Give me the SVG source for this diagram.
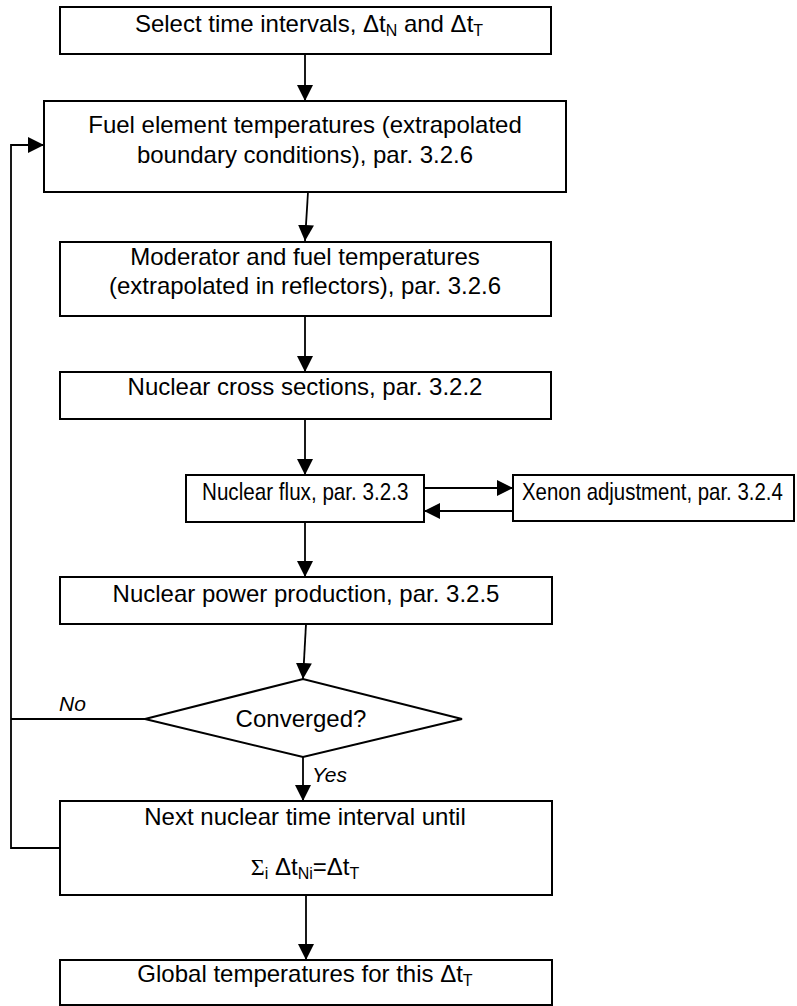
<svg xmlns="http://www.w3.org/2000/svg" width="797" height="1006" viewBox="0 0 797 1006">
<defs>
<style>
.box{fill:#fff;stroke:#000;stroke-width:2}
.t{font-family:"Liberation Sans",Arial,sans-serif;font-size:24px;fill:#000;text-anchor:middle}
.n{font-family:"Liberation Sans",Arial,sans-serif;font-size:24px;fill:#000}
.lbl{font-family:"Liberation Sans",Arial,sans-serif;font-size:21px;font-style:italic;fill:#000}
.sub{font-size:16px}
.c{fill:none;stroke:#000;stroke-width:1.8}
</style>
<marker id="ah" markerUnits="userSpaceOnUse" markerWidth="16" markerHeight="16" refX="14" refY="7" orient="auto" viewBox="0 0 14 14">
<path d="M0,0 L14,7 L0,14 z" fill="#000"/>
</marker>
</defs>
<rect width="797" height="1006" fill="#fff"/>
<g id="connectors">
<line class="c" x1="305" y1="54" x2="305" y2="101" marker-end="url(#ah)"/>
<line class="c" x1="308" y1="192" x2="305" y2="241" marker-end="url(#ah)"/>
<line class="c" x1="305" y1="316" x2="305" y2="372" marker-end="url(#ah)"/>
<line class="c" x1="305" y1="419" x2="305" y2="475" marker-end="url(#ah)"/>
<line class="c" x1="424" y1="488" x2="513" y2="488" marker-end="url(#ah)"/>
<line class="c" x1="513" y1="511" x2="424" y2="511" marker-end="url(#ah)"/>
<line class="c" x1="305" y1="522" x2="305" y2="577" marker-end="url(#ah)"/>
<line class="c" x1="306" y1="624" x2="303" y2="679" marker-end="url(#ah)"/>
<line class="c" x1="303" y1="757" x2="303" y2="801" marker-end="url(#ah)"/>
<line class="c" x1="306" y1="895" x2="306" y2="960" marker-end="url(#ah)"/>
<line class="c" x1="145" y1="719" x2="11" y2="719"/>
<path class="c" d="M60,848 H11 V145 H44" marker-end="url(#ah)"/>
<text class="lbl" x="59" y="711">No</text>
<text class="lbl" x="312" y="782">Yes</text>
</g>
<g id="select">
<rect class="box" x="60" y="7" width="491" height="47"/>
<text class="t" x="309" y="32">Select time intervals, Δt<tspan class="sub" dy="4">N</tspan><tspan dy="-4"> and Δt</tspan><tspan class="sub" dy="4">T</tspan></text>
</g>
<g id="fuel">
<rect class="box" x="44" y="101" width="522" height="91"/>
<text class="t" x="305" y="133">Fuel element temperatures (extrapolated</text>
<text class="t" x="305" y="163">boundary conditions), par. 3.2.6</text>
</g>
<g id="moderator">
<rect class="box" x="60" y="242" width="491" height="74"/>
<text class="t" x="305" y="265">Moderator and fuel temperatures</text>
<text class="t" x="305" y="294">(extrapolated in reflectors), par. 3.2.6</text>
</g>
<g id="cross">
<rect class="box" x="60" y="372" width="491" height="47"/>
<text class="t" x="305" y="395">Nuclear cross sections, par. 3.2.2</text>
</g>
<g id="flux">
<rect class="box" x="186" y="475" width="238" height="47"/>
<text class="n" transform="translate(202,500) scale(0.86,1)" x="0" y="0">Nuclear flux, par. 3.2.3</text>
</g>
<g id="xenon">
<rect class="box" x="513" y="475" width="281" height="46"/>
<text class="n" transform="translate(522,500) scale(0.85,1)" x="0" y="0">Xenon adjustment, par. 3.2.4</text>
</g>
<g id="power">
<rect class="box" x="60" y="577" width="492" height="47"/>
<text class="t" x="306" y="602">Nuclear power production, par. 3.2.5</text>
</g>
<g id="converged">
<polygon class="box" points="145,719 303,679 462,719 303,757"/>
<text class="t" x="301" y="727">Converged?</text>
</g>
<g id="next">
<rect class="box" x="60" y="801" width="492" height="94"/>
<text class="t" x="305" y="825">Next nuclear time interval until</text>
<text class="t" x="305" y="875"><tspan font-family="'Liberation Serif',serif">Σ</tspan><tspan class="sub" dy="4">i</tspan><tspan dy="-4"> Δt</tspan><tspan class="sub" dy="4">Ni</tspan><tspan dy="-4">=Δt</tspan><tspan class="sub" dy="4">T</tspan></text>
</g>
<g id="global">
<rect class="box" x="60" y="960" width="492" height="45"/>
<text class="t" x="305" y="982">Global temperatures for this Δt<tspan class="sub" dy="4">T</tspan></text>
</g>
</svg>
